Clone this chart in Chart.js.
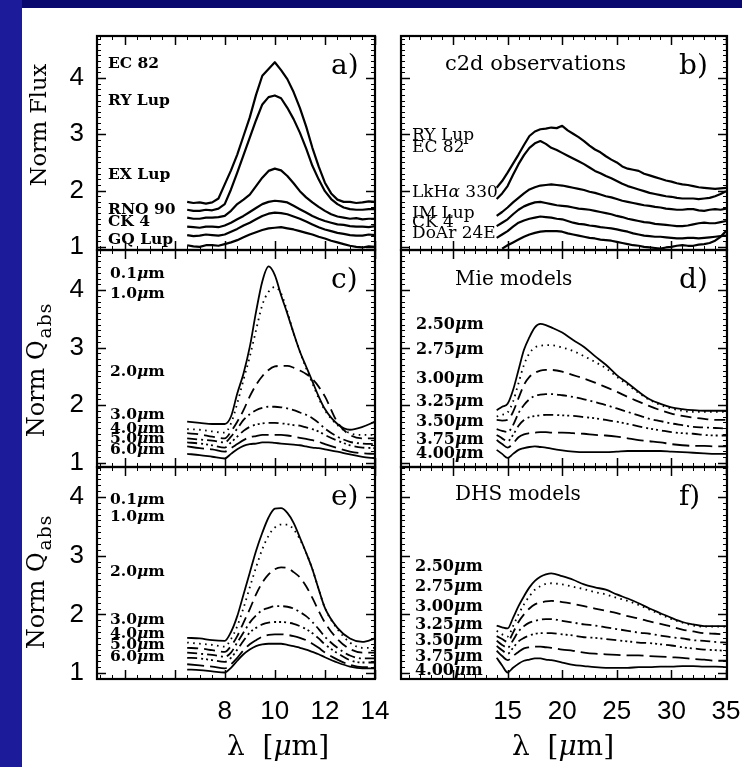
<!DOCTYPE html>
<html>
<head>
<meta charset="utf-8">
<script src="https://cdn.jsdelivr.net/npm/chart.js@4.4.1/dist/chart.umd.min.js"></script>
<style>
html,body{margin:0;padding:0;}
body{width:742px;height:767px;position:relative;overflow:hidden;background:#08086e;}
#strip{position:absolute;left:0;top:0;width:22px;height:767px;background:#1c1c9a;}
#paper{position:absolute;left:22px;top:8px;width:720px;height:759px;background:#fff;}
canvas.pan{position:absolute;left:0;top:0;}
.lb{position:absolute;white-space:nowrap;line-height:1;color:#000;font-family:"DejaVu Serif",serif;}
.rot{position:absolute;white-space:nowrap;line-height:1;color:#000;font-family:"DejaVu Serif",serif;transform:translate(-50%,-50%) rotate(-90deg);}
.ctr{position:absolute;white-space:nowrap;line-height:1;color:#000;font-family:"DejaVu Serif",serif;transform:translate(-50%,-50%);}
sub{font-size:78%;vertical-align:-0.4em;letter-spacing:1px;margin-left:2px;}
</style>
</head>
<body>
<div id="strip"></div>
<div id="paper"></div>
<canvas id="ca" class="pan" width="800" height="800"></canvas>
<canvas id="cb" class="pan" width="800" height="800"></canvas>
<canvas id="cc" class="pan" width="800" height="800"></canvas>
<canvas id="cd" class="pan" width="800" height="800"></canvas>
<canvas id="ce" class="pan" width="800" height="800"></canvas>
<canvas id="cf" class="pan" width="800" height="800"></canvas>
<div id="txt"></div>
<script>
// ---------------- DATA ----------------
// panel a) observed spectra, wavelength grid (micron)
const LAM_A = [6.5,6.75,7,7.25,7.5,7.75,8,8.25,8.5,8.75,9,9.25,9.5,9.75,10,10.25,10.5,10.75,11,11.25,11.5,11.75,12,12.25,12.5,12.75,13,13.25,13.5,13.75,14];
const A_EC82  = [1.80,1.78,1.79,1.77,1.79,1.86,2.11,2.36,2.64,2.97,3.30,3.70,4.04,4.16,4.28,4.14,3.98,3.75,3.47,3.14,2.76,2.43,2.14,1.95,1.84,1.80,1.80,1.78,1.79,1.81,1.80];
const A_RYLUP = [1.66,1.64,1.64,1.66,1.65,1.68,1.76,2.02,2.32,2.63,2.94,3.25,3.53,3.66,3.69,3.64,3.47,3.27,3.03,2.75,2.44,2.20,1.99,1.85,1.76,1.70,1.67,1.66,1.66,1.67,1.67];
const A_EXLUP = [1.52,1.50,1.50,1.52,1.52,1.53,1.55,1.64,1.76,1.84,1.93,2.08,2.23,2.35,2.39,2.36,2.26,2.13,1.99,1.88,1.79,1.71,1.64,1.58,1.54,1.52,1.50,1.51,1.49,1.50,1.50];
const A_RNO90 = [1.36,1.35,1.34,1.36,1.36,1.35,1.38,1.43,1.49,1.55,1.62,1.69,1.76,1.80,1.82,1.81,1.79,1.73,1.67,1.61,1.55,1.50,1.46,1.43,1.40,1.39,1.37,1.36,1.36,1.35,1.37];
const A_CK4   = [1.21,1.19,1.20,1.22,1.21,1.20,1.22,1.27,1.32,1.38,1.43,1.49,1.55,1.59,1.61,1.60,1.58,1.54,1.50,1.45,1.40,1.35,1.31,1.28,1.25,1.23,1.21,1.20,1.20,1.22,1.21];
const A_GQLUP = [1.03,1.01,1.00,1.03,1.03,1.02,1.05,1.08,1.12,1.17,1.22,1.26,1.30,1.33,1.34,1.35,1.33,1.31,1.28,1.25,1.22,1.18,1.15,1.11,1.08,1.05,1.02,1.00,0.99,1.01,1.00];
const NAMES_A = ['EC 82','RY Lup','EX Lup','RNO 90','CK 4','GQ Lup'];

// panel b) c2d observations
const LAM_B = [14,14.5,15,15.5,16,16.5,17,17.5,18,18.5,19,19.5,20,20.5,21,21.5,22,22.5,23,23.5,24,24.5,25,25.5,26,26.5,27,27.5,28,28.5,29,29.5,30,30.5,31,31.5,32,32.5,33,33.5,34,34.5,35];
const B_RYLUP = [2.05,2.17,2.32,2.48,2.64,2.81,2.97,3.05,3.09,3.10,3.12,3.11,3.15,3.07,3.01,2.95,2.88,2.80,2.73,2.68,2.61,2.55,2.50,2.43,2.39,2.37,2.35,2.30,2.27,2.24,2.21,2.18,2.16,2.13,2.11,2.10,2.08,2.06,2.05,2.04,2.03,2.04,2.05];
const B_EC82  = [1.85,1.95,2.08,2.28,2.47,2.63,2.76,2.84,2.88,2.83,2.76,2.72,2.67,2.62,2.57,2.52,2.47,2.41,2.35,2.31,2.26,2.22,2.17,2.12,2.08,2.05,2.02,1.99,1.96,1.94,1.92,1.90,1.89,1.87,1.86,1.86,1.86,1.85,1.86,1.87,1.90,1.94,1.99];
const B_LKHA  = [1.55,1.62,1.70,1.79,1.87,1.95,2.02,2.06,2.09,2.10,2.11,2.10,2.09,2.07,2.05,2.03,2.01,1.98,1.96,1.93,1.90,1.88,1.85,1.82,1.80,1.78,1.76,1.74,1.73,1.71,1.70,1.68,1.67,1.66,1.66,1.67,1.67,1.65,1.64,1.66,1.67,1.66,1.68];
const B_IMLUP = [1.37,1.43,1.49,1.58,1.66,1.72,1.76,1.79,1.80,1.78,1.76,1.74,1.73,1.72,1.70,1.68,1.67,1.66,1.64,1.62,1.60,1.58,1.55,1.53,1.50,1.48,1.46,1.44,1.43,1.41,1.40,1.39,1.38,1.37,1.37,1.38,1.40,1.42,1.43,1.42,1.42,1.44,1.46];
const B_CK4   = [1.16,1.22,1.28,1.36,1.43,1.47,1.50,1.52,1.54,1.53,1.52,1.50,1.49,1.46,1.43,1.41,1.40,1.38,1.37,1.35,1.34,1.33,1.31,1.29,1.27,1.24,1.22,1.20,1.19,1.18,1.18,1.17,1.16,1.15,1.15,1.16,1.16,1.15,1.16,1.17,1.18,1.19,1.20];
const B_DOAR  = [null,0.97,1.03,1.08,1.13,1.18,1.22,1.25,1.27,1.28,1.28,1.28,1.27,1.24,1.22,1.20,1.18,1.16,1.15,1.13,1.12,1.11,1.09,1.07,1.05,1.03,1.02,1.00,0.99,0.98,0.97,0.99,1.00,1.02,1.03,1.02,1.02,1.04,1.05,1.07,1.11,1.18,1.28];
const NAMES_B = ['RY Lup','EC 82','LkH<i>α</i> 330','IM Lup','CK 4','DoAr 24E'];

// panels c) and e) model curves, grain sizes
const LAM_C = [6.5,7,7.5,8,8.25,8.5,8.75,9,9.25,9.5,9.75,10,10.25,10.5,10.75,11,11.25,11.5,11.75,12,12.5,13,13.5,14];
const C_01 = [1.71,1.69,1.67,1.67,1.80,2.20,2.55,3.01,3.62,4.15,4.41,4.26,3.91,3.59,3.25,2.93,2.67,2.41,2.15,1.93,1.67,1.57,1.62,1.71];
const C_10 = [1.58,1.57,1.54,1.52,1.68,2.03,2.44,2.84,3.30,3.74,3.97,4.05,3.94,3.62,3.25,2.93,2.64,2.38,2.12,1.91,1.65,1.51,1.48,1.48];
const C_20 = [1.51,1.49,1.45,1.42,1.54,1.71,1.91,2.15,2.35,2.50,2.61,2.67,2.68,2.68,2.65,2.60,2.54,2.45,2.32,2.15,1.70,1.48,1.42,1.42];
const C_30 = [1.42,1.40,1.38,1.35,1.45,1.59,1.74,1.84,1.91,1.95,1.97,1.97,1.96,1.94,1.91,1.87,1.83,1.77,1.69,1.59,1.45,1.36,1.33,1.32];
const C_40 = [1.35,1.33,1.30,1.26,1.35,1.45,1.55,1.62,1.66,1.68,1.69,1.69,1.68,1.67,1.65,1.64,1.61,1.58,1.54,1.48,1.38,1.30,1.26,1.25];
const C_50 = [1.28,1.25,1.23,1.19,1.25,1.32,1.39,1.44,1.46,1.48,1.48,1.48,1.48,1.47,1.45,1.43,1.41,1.39,1.36,1.32,1.25,1.19,1.16,1.15];
const C_60 = [1.15,1.13,1.10,1.07,1.15,1.23,1.29,1.32,1.33,1.35,1.35,1.34,1.33,1.32,1.31,1.30,1.28,1.26,1.25,1.23,1.19,1.14,1.10,1.07];
const E_01 = [1.60,1.59,1.56,1.55,1.70,1.97,2.34,2.71,3.08,3.39,3.65,3.80,3.81,3.73,3.56,3.31,3.05,2.77,2.43,2.11,1.77,1.59,1.53,1.59];
const E_10 = [1.52,1.50,1.48,1.45,1.58,1.80,2.11,2.46,2.80,3.11,3.34,3.48,3.53,3.53,3.45,3.28,3.05,2.77,2.43,2.11,1.75,1.52,1.43,1.43];
const E_20 = [1.43,1.42,1.39,1.36,1.46,1.63,1.86,2.09,2.34,2.54,2.68,2.77,2.80,2.79,2.72,2.63,2.48,2.28,2.06,1.86,1.58,1.41,1.35,1.35];
const E_30 = [1.35,1.33,1.31,1.28,1.35,1.52,1.69,1.86,1.98,2.07,2.11,2.14,2.14,2.13,2.10,2.04,1.97,1.87,1.75,1.62,1.43,1.30,1.25,1.25];
const E_40 = [1.26,1.25,1.22,1.19,1.26,1.40,1.55,1.69,1.77,1.83,1.86,1.87,1.87,1.86,1.84,1.80,1.75,1.68,1.59,1.49,1.34,1.22,1.18,1.18];
const E_50 = [1.15,1.13,1.11,1.08,1.15,1.26,1.39,1.49,1.56,1.62,1.65,1.66,1.66,1.65,1.63,1.60,1.56,1.50,1.43,1.35,1.23,1.14,1.10,1.10];
const E_60 = [1.06,1.05,1.03,1.01,1.09,1.21,1.32,1.40,1.46,1.49,1.50,1.50,1.50,1.48,1.46,1.43,1.40,1.36,1.32,1.27,1.18,1.11,1.08,1.08];
const SIZES_CE = ['0.1','1.0','2.0','3.0','4.0','5.0','6.0'];

// panels d) and f)
const LAM_D = [14,14.5,15,15.5,16,16.5,17,17.5,18,18.5,19,20,21,22,23,24,25,26,27,28,29,30,31,32,33,34,35];
const D_250 = [1.91,1.97,2.02,2.26,2.61,2.96,3.18,3.35,3.41,3.39,3.35,3.26,3.13,3.01,2.85,2.70,2.52,2.38,2.23,2.10,2.02,1.96,1.93,1.91,1.90,1.90,1.90];
const D_275 = [1.80,1.83,1.87,2.06,2.38,2.70,2.90,3.00,3.03,3.04,3.04,3.00,2.94,2.85,2.75,2.64,2.49,2.35,2.21,2.09,2.00,1.94,1.90,1.88,1.88,1.88,1.88];
const D_300 = [1.74,1.73,1.74,1.88,2.12,2.35,2.49,2.56,2.60,2.61,2.61,2.58,2.52,2.46,2.39,2.31,2.23,2.14,2.06,1.98,1.91,1.85,1.81,1.78,1.76,1.74,1.74];
const D_325 = [1.58,1.55,1.53,1.65,1.86,2.00,2.10,2.16,2.18,2.19,2.19,2.17,2.14,2.10,2.05,2.00,1.94,1.88,1.82,1.76,1.72,1.68,1.65,1.62,1.61,1.60,1.59];
const D_350 = [1.48,1.42,1.37,1.48,1.64,1.74,1.79,1.81,1.82,1.83,1.83,1.82,1.81,1.79,1.77,1.74,1.71,1.67,1.63,1.59,1.56,1.53,1.51,1.50,1.48,1.47,1.47];
const D_375 = [1.39,1.32,1.26,1.33,1.44,1.49,1.51,1.52,1.53,1.53,1.52,1.52,1.51,1.50,1.48,1.47,1.45,1.42,1.39,1.37,1.35,1.32,1.30,1.29,1.29,1.28,1.28];
const D_400 = [1.22,1.15,1.08,1.15,1.22,1.25,1.27,1.28,1.27,1.26,1.24,1.21,1.19,1.18,1.18,1.18,1.19,1.20,1.20,1.20,1.20,1.19,1.18,1.17,1.16,1.15,1.15];
const F_250 = [1.81,1.78,1.76,1.94,2.14,2.31,2.46,2.57,2.64,2.68,2.70,2.65,2.59,2.51,2.46,2.42,2.34,2.27,2.19,2.10,2.02,1.94,1.87,1.83,1.80,1.80,1.80];
const F_275 = [1.72,1.66,1.62,1.80,2.00,2.17,2.31,2.42,2.48,2.52,2.53,2.51,2.47,2.43,2.38,2.34,2.28,2.23,2.16,2.08,2.00,1.92,1.86,1.81,1.79,1.79,1.79];
const F_300 = [1.63,1.58,1.53,1.69,1.87,2.00,2.10,2.17,2.20,2.22,2.23,2.21,2.18,2.14,2.10,2.06,2.02,1.97,1.93,1.88,1.84,1.79,1.74,1.71,1.68,1.67,1.66];
const F_325 = [1.55,1.48,1.43,1.56,1.71,1.80,1.86,1.89,1.91,1.92,1.92,1.89,1.86,1.83,1.81,1.78,1.75,1.72,1.69,1.67,1.64,1.61,1.59,1.56,1.55,1.53,1.52];
const F_350 = [1.46,1.39,1.33,1.43,1.54,1.60,1.64,1.67,1.68,1.68,1.68,1.66,1.64,1.61,1.60,1.58,1.56,1.54,1.52,1.51,1.49,1.47,1.44,1.42,1.40,1.39,1.38];
const F_375 = [1.38,1.29,1.22,1.29,1.36,1.42,1.44,1.45,1.45,1.44,1.43,1.40,1.38,1.35,1.33,1.32,1.31,1.30,1.30,1.29,1.28,1.27,1.26,1.24,1.23,1.21,1.21];
const F_400 = [1.26,1.13,1.01,1.09,1.16,1.21,1.23,1.25,1.25,1.23,1.22,1.18,1.14,1.12,1.10,1.09,1.09,1.09,1.10,1.10,1.11,1.11,1.12,1.12,1.11,1.11,1.10];
const SIZES_DF = ['2.50','2.75','3.00','3.25','3.50','3.75','4.00'];

const X_TICKS_L = [8,10,12,14];
const X_TICKS_R = [15,20,25,30,35];
const Y_TICKS = [1,2,3,4];

// ---------------- LAYOUT ----------------
const CW = 800, CH = 800;
const COL = { L:{l:97, r:375, min:2.9, max:14, maj:2, mnr:0.5}, R:{l:401, r:727, min:5.24, max:35.09, maj:5, mnr:1} };
const ROW = [ {t:36, b:250, min:0.945, max:4.746}, {t:250, b:467, min:0.922, max:4.696}, {t:467, b:679, min:0.899, max:4.511} ];
const STYLES = [
  {dash:[]}, {dash:[1.6,4.4]}, {dash:[11,6]}, {dash:[10,4,2,4]}, {dash:[10,4,2,3,2,3,2,4]}, {dash:[17,6]}, {dash:[]}
];

const framePlugin = {
  id:'frame',
  afterDatasetsDraw(chart, args, o) {
    const {ctx, chartArea:a, scales:{x, y}} = chart;
    ctx.save();
    ctx.strokeStyle = '#000';
    const ln = (x1,y1,x2,y2)=>{ctx.beginPath();ctx.moveTo(x1,y1);ctx.lineTo(x2,y2);ctx.stroke();};
    const marks = (scale, step, len, horiz) => {
      const s0 = Math.ceil(scale.min/step - 1e-6);
      for (let k = s0; k*step <= scale.max + 1e-6; k++) {
        const p = Math.round(scale.getPixelForValue(k*step)) + 0.5;
        if (horiz) { ln(p, a.bottom, p, a.bottom-len); ln(p, a.top, p, a.top+len); }
        else { ln(a.left, p, a.left+len, p); ln(a.right, p, a.right-len, p); }
      }
    };
    ctx.lineWidth = 1;
    marks(x, o.xMinor, 4, true);
    marks(y, 0.1, 4, false);
    ctx.lineWidth = 1.5;
    marks(x, o.xMajor, 9, true);
    marks(y, 1, 9, false);
    ctx.lineWidth = 2.2;
    ctx.strokeRect(a.left, a.top, a.right-a.left, a.bottom-a.top);
    ctx.restore();
  }
};

function series(xs, ys, i, width, smooth) {
  return {
    data: xs.map((x,k)=>({x:x, y:ys[k]})),
    borderColor:'#000', borderWidth:width, borderDash:STYLES[i].dash,
    pointRadius:0, fill:false, spanGaps:false,
    tension: 0, cubicInterpolationMode: smooth ? 'monotone' : 'default',
    borderCapStyle:'butt', borderJoinStyle:'round'
  };
}

function panel(id, colKey, rowIdx, datasets, showY, xTicks) {
  const c = COL[colKey], r = ROW[rowIdx];
  const yW = showY ? 50 : 0, xH = xTicks ? 44 : 0;
  new Chart(document.getElementById(id), {
    type:'line',
    data:{datasets},
    options:{
      responsive:false, animation:false, events:[],
      layout:{padding:{left:c.l - yW, right:CW - c.r, top:r.t, bottom:CH - r.b - xH}},
      plugins:{legend:{display:false}, tooltip:{enabled:false}, frame:{xMajor:c.maj, xMinor:c.mnr}},
      scales:{
        x:{type:'linear', min:c.min, max:c.max, display:!!xTicks,
           grid:{display:false, drawTicks:false}, border:{display:false},
           afterFit:s=>{ s.height = xH; },
           afterBuildTicks:s=>{ if (xTicks) s.ticks = xTicks.map(v=>({value:v})); },
           ticks:{color:'#000', font:{family:'"Liberation Sans"', size:26}, padding:17, maxRotation:0, autoSkip:false}},
        y:{type:'linear', min:r.min, max:r.max, display:showY,
           grid:{display:false, drawTicks:false}, border:{display:false},
           afterFit:s=>{ s.width = yW; },
           afterBuildTicks:s=>{ s.ticks = Y_TICKS.map(v=>({value:v})); },
           ticks:{color:'#000', font:{family:'"Liberation Sans"', size:26}, padding:13}}
      }
    },
    plugins:[framePlugin]
  });
}

panel('ca','L',0,[A_EC82,A_RYLUP,A_EXLUP,A_RNO90,A_CK4,A_GQLUP].map(s=>series(LAM_A,s,0,2.2,false)), true, null);
panel('cb','R',0,[B_RYLUP,B_EC82,B_LKHA,B_IMLUP,B_CK4,B_DOAR].map(s=>series(LAM_B,s,0,2.2,false)), false, null);
panel('cc','L',1,[C_01,C_10,C_20,C_30,C_40,C_50,C_60].map((s,i)=>series(LAM_C,s,i,1.8,true)), true, null);
panel('cd','R',1,[D_250,D_275,D_300,D_325,D_350,D_375,D_400].map((s,i)=>series(LAM_D,s,i,1.8,true)), false, null);
panel('ce','L',2,[E_01,E_10,E_20,E_30,E_40,E_50,E_60].map((s,i)=>series(LAM_C,s,i,1.8,true)), true, X_TICKS_L);
panel('cf','R',2,[F_250,F_275,F_300,F_325,F_350,F_375,F_400].map((s,i)=>series(LAM_D,s,i,1.8,true)), false, X_TICKS_R);

// ---------------- TEXT ----------------
const box = document.getElementById('txt');
function put(html, x, cy, size, weight, cls) {
  const d = document.createElement('div');
  d.className = cls || 'lb';
  d.innerHTML = html;
  d.style.fontSize = size + 'px';
  if (weight) d.style.fontWeight = weight;
  d.style.left = x + 'px';
  d.style.top = (cls ? cy : cy - 0.48*size) + 'px';
  box.appendChild(d);
}
const mu = s => s + '<i>μ</i>m';
const POS_A = [62.5, 99.5, 173, 208, 220, 238];
NAMES_A.forEach((t,i)=>put(t, 108, POS_A[i], 15.5, 'bold'));
const POS_B = [134, 146.5, 191, 212, 221, 232];
NAMES_B.forEach((t,i)=>put(t, 412, POS_B[i], 17));
const POS_C = [272, 292, 370.5, 413.5, 427.5, 437.5, 448];
SIZES_CE.forEach((t,i)=>put(mu(t), 110, POS_C[i], 15.5, 'bold'));
const POS_E = [498, 515, 570, 618, 632, 643, 655];
SIZES_CE.forEach((t,i)=>put(mu(t), 110, POS_E[i], 15.5, 'bold'));
const POS_D = [324, 349, 377.5, 401, 421, 438.5, 452.5];
SIZES_DF.forEach((t,i)=>put(mu(t), 416, POS_D[i], 16, 'bold'));
const POS_F = [566, 586, 606, 624, 640, 656, 670];
SIZES_DF.forEach((t,i)=>put(mu(t), 415, POS_F[i], 16, 'bold'));

put('c2d observations', 445, 63, 21);
put('Mie models', 455, 278, 20);
put('DHS models', 455, 493, 20);
[['a)',331,0],['b)',679,0],['c)',331,1],['d)',679,1],['e)',331,2],['f)',679,2]].forEach(p=>{
  put(p[0], p[1], ROW[p[2]].t + 28, 28);
});
put('Norm Flux', 38, 125, 22.5, null, 'rot');
put('Norm&nbsp;Q<sub>abs</sub>', 40, 370, 24, null, 'rot');
put('Norm&nbsp;Q<sub>abs</sub>', 40, 582, 24, null, 'rot');
put('λ&nbsp;&nbsp;[<i>μ</i>m]', 278, 746, 28, null, 'ctr');
put('λ&nbsp;&nbsp;[<i>μ</i>m]', 563, 746, 28, null, 'ctr');
</script>
</body>
</html>
